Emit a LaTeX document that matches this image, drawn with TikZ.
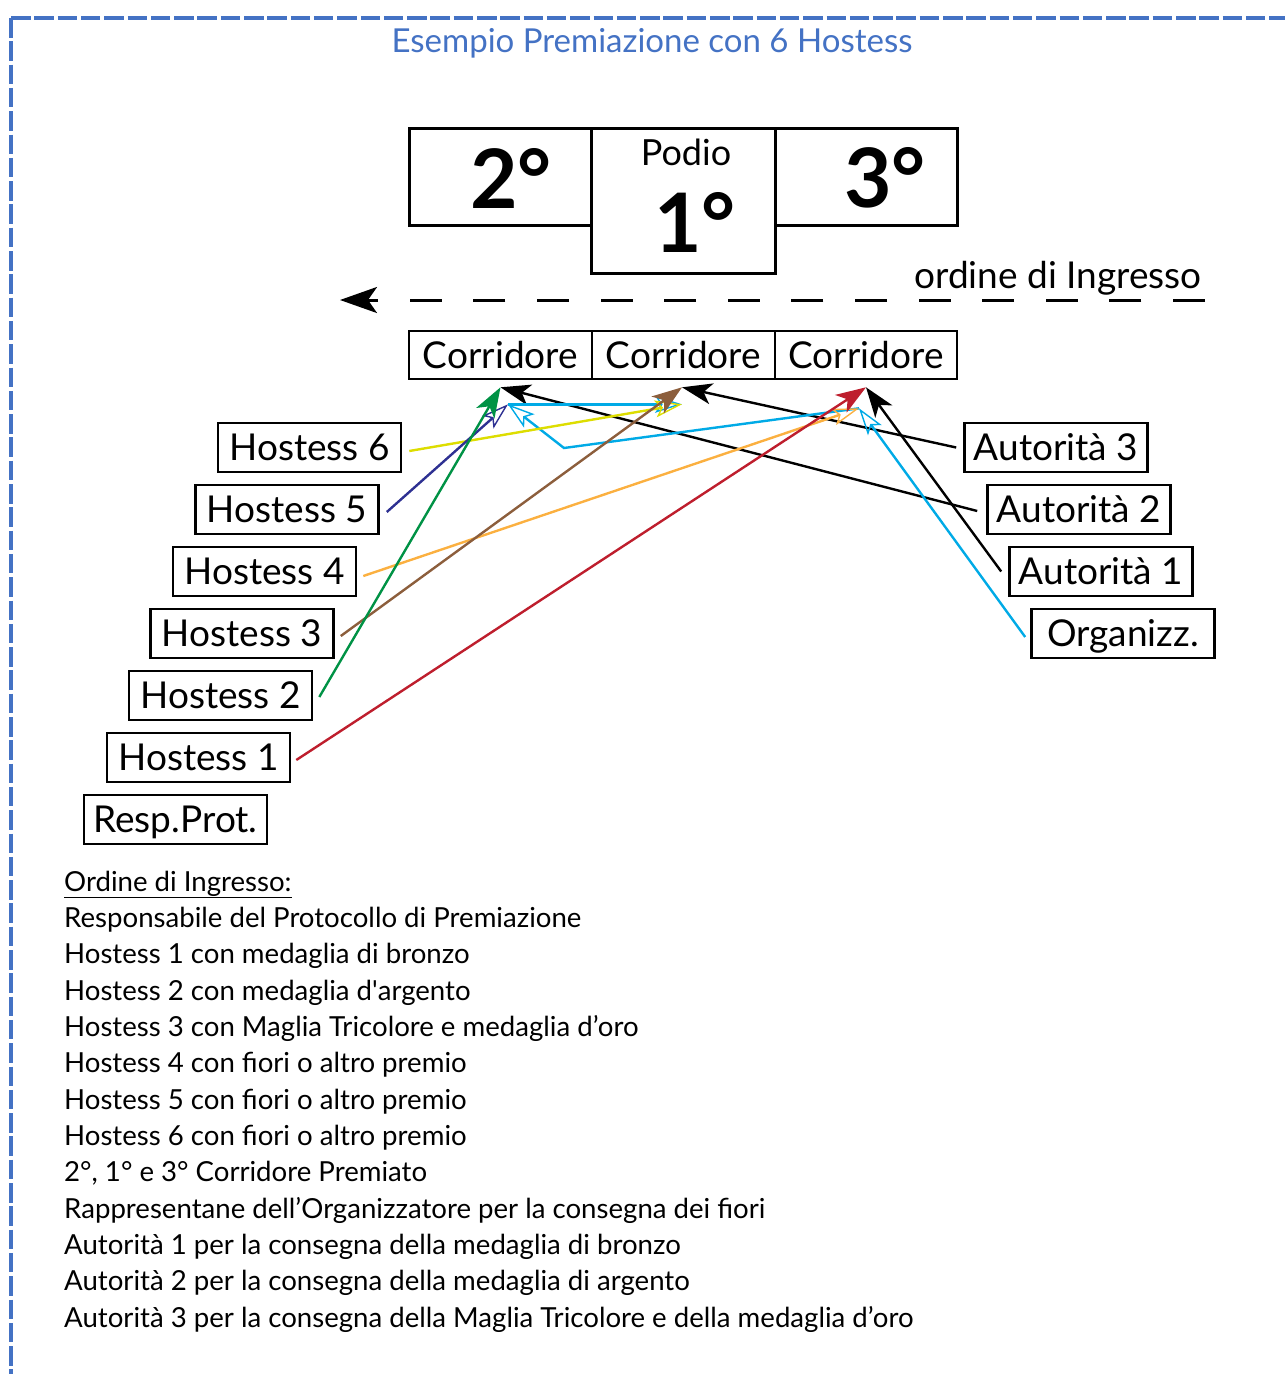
\documentclass[tikz,border=0pt]{standalone}
\usepackage{fontspec}
\setmainfont{Lato}
\newfontfamily\latoplain{Lato}
\usetikzlibrary{arrows.meta,calc}
\definecolor{frameblue}{RGB}{68,114,196}
\definecolor{hyellow}{RGB}{221,221,0}
\definecolor{hnavy}{RGB}{46,49,146}
\definecolor{horange}{RGB}{251,176,64}
\definecolor{hbrown}{RGB}{140,94,60}
\definecolor{hgreen}{RGB}{0,146,69}
\definecolor{hred}{RGB}{190,30,45}
\definecolor{hcyan}{RGB}{0,170,230}
\begin{document}
\begin{tikzpicture}[x=1pt,y=-1pt,
  lbl/.style={draw,line width=2.6pt,minimum width=183pt,minimum height=49pt,inner sep=0pt,
    font=\fontsize{37}{40}\selectfont,text height=26.6pt,text depth=0pt},
  podbox/.style={draw,line width=3pt,inner sep=0pt,fill=white},
  big/.style={inner sep=0pt,font=\fontsize{82}{82}\selectfont\bfseries},
  conn/.style={line width=2.4pt},
  filledtip/.style={-{Stealth[length=30pt,width=21pt,inset=8pt]}},
  opentip/.style={-{Stealth[open,length=27pt,width=17pt,inset=6pt,line width=1.4pt]}},
  legendline/.style={anchor=base west,inner sep=0pt,font=\fontsize{27.6}{30}\selectfont},
]
\useasboundingbox (0,0) rectangle (1285,1374);
% frame
\coordinate (fc) at (11,18);
\draw[frameblue,line width=3.5pt,dash pattern=on 19.5pt off 3.8pt] (fc) -- (1300,18);
\draw[frameblue,line width=3.5pt,dash pattern=on 19.5pt off 3.8pt] (fc) -- (11,1390);
\node[frameblue,inner sep=0pt,font=\fontsize{33}{36}\selectfont] (title) at (652,43) {Esempio Premiazione con 6 Hostess};

% podium
\node[podbox,minimum width=183pt,minimum height=97pt] (p2) at (500.5,176.5) {};
\node[podbox,minimum width=182pt,minimum height=97pt] (p3) at (866,176.5) {};
\node[podbox,minimum width=184pt,minimum height=145pt] (p1) at (683,200.5) {};
\node[big] (t2) at (511,178) {2°};
\node[big] (t3) at (885,178) {3°};
\node[big] (t1) at (695,222) {1°};
\node[inner sep=0pt,font=\fontsize{36}{40}\selectfont] (podio) at (686,152) {Podio};

% entry direction
\node[inner sep=0pt,font=\fontsize{37}{40}\selectfont] (ordine) at (1058,278) {ordine di Ingresso};
\coordinate (dstart) at (1205,300);
\coordinate (dend) at (340,300);
\draw[line width=3pt,dash pattern=on 32pt off 31.6pt,-{Stealth[length=37pt,width=26pt,inset=9pt]}] (dstart) -- (dend);

% corridors
\node[lbl,minimum width=183pt,minimum height=48pt] (co2) at (500.5,355) {Corridore};
\node[lbl,minimum width=183pt,minimum height=48pt] (co1) at (683.5,355) {Corridore};
\node[lbl,minimum width=182pt,minimum height=48pt] (co3) at (866,355) {Corridore};

% hostesses
\node[lbl] (h6) at (309.5,447.5) {Hostess 6};
\node[lbl] (h5) at (287,509.5) {Hostess 5};
\node[lbl] (h4) at (264.5,571.5) {Hostess 4};
\node[lbl] (h3) at (242,633.5) {Hostess 3};
\node[lbl] (h2) at (220.5,695.5) {Hostess 2};
\node[lbl] (h1) at (198.5,757.5) {Hostess 1};
\node[lbl] (rp) at (175.5,819.5) {Resp.Prot.};

% authorities
\node[lbl] (a3) at (1056,447.5) {Autorità 3};
\node[lbl] (a2) at (1079,509.5) {Autorità 2};
\node[lbl] (a1) at (1101,571.5) {Autorità 1};
\node[lbl] (org) at (1123,633.5) {Organizz.};

% arrival points
\coordinate (c2top) at ($(co2.south)+(0,7)$);
\coordinate (c2low) at ($(co2.south)+(7.5,24)$);
\coordinate (c1top) at ($(co1.south)+(-1.5,7)$);
\coordinate (c1low) at ($(co1.south)+(-1.5,24)$);
\coordinate (c3top) at ($(co3.south)+(0,7)$);
\coordinate (c3low) at ($(co3.south)+(-7,28)$);
\coordinate (bend) at (564,448);

% connectors
\draw[conn,black,filledtip] ($(a2.west)+(-9,1.5)$) -- (c2top);
\draw[conn,black,filledtip] ($(a3.west)+(-7,0)$) -- (c1top);
\draw[conn,black,filledtip] ($(a1.west)+(-7,0)$) -- (c3top);
\draw[conn,hcyan,opentip] ($(org.west)+(-5,3.5)$) -- (c3low);
\draw[conn,hcyan,opentip] (c3low) -- (bend) -- (c2low);
\draw[conn,hcyan,opentip] (c2low) -- (c1low);
\draw[conn,hyellow,opentip] ($(h6.east)+(7,3.5)$) -- (c1low);
\draw[conn,hnavy,opentip] ($(h5.east)+(7,2.5)$) -- (c2low);
\draw[conn,horange,opentip] ($(h4.east)+(6,4.5)$) -- (c3low);
\draw[conn,hbrown,filledtip] ($(h3.east)+(6,2.5)$) -- (c1top);
\draw[conn,hgreen,filledtip] ($(h2.east)+(6,1.5)$) -- (c2top);
\draw[conn,hred,filledtip] ($(h1.east)+(5,2.5)$) -- (c3top);

% legend
\node[legendline] (l0) at (64,891) {\underline{Ordine di Ingresso:}};
\node[legendline] (l1) at (64,927.3) {Responsabile del Protocollo di Premiazione};
\node[legendline] (l2) at (64,963.7) {Hostess 1 con medaglia di bronzo};
\node[legendline] (l3) at (64,1000) {Hostess 2 con medaglia d{\latoplain'}argento};
\node[legendline] (l4) at (64,1036.3) {Hostess 3 con Maglia Tricolore e medaglia d’oro};
\node[legendline] (l5) at (64,1072.7) {Hostess 4 con fiori o altro premio};
\node[legendline] (l6) at (64,1109) {Hostess 5 con fiori o altro premio};
\node[legendline] (l7) at (64,1145.3) {Hostess 6 con fiori o altro premio};
\node[legendline] (l8) at (64,1181.7) {2°, 1° e 3° Corridore Premiato};
\node[legendline] (l9) at (64,1218) {Rappresentane dell’Organizzatore per la consegna dei fiori};
\node[legendline] (l10) at (64,1254.3) {Autorità 1 per la consegna della medaglia di bronzo};
\node[legendline] (l11) at (64,1290.7) {Autorità 2 per la consegna della medaglia di argento};
\node[legendline] (l12) at (64,1327) {Autorità 3 per la consegna della Maglia Tricolore e della medaglia d’oro};
\end{tikzpicture}
\end{document}
